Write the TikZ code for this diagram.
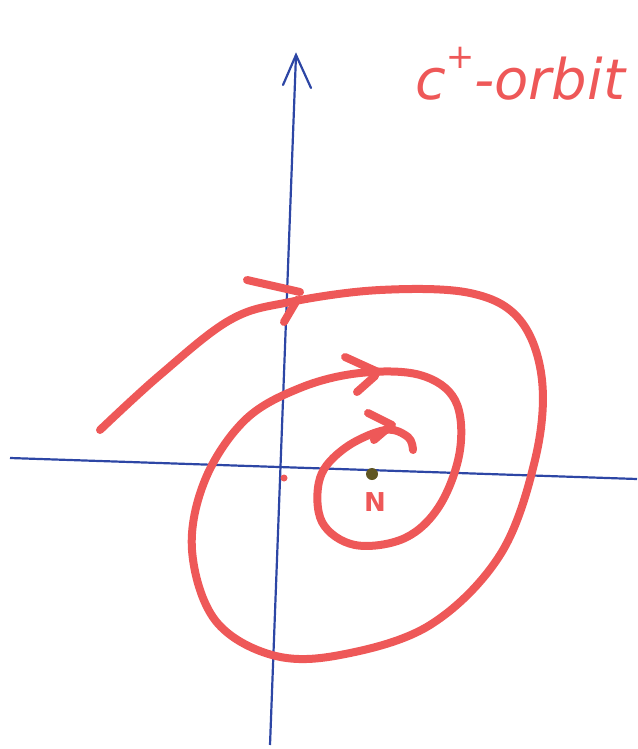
\documentclass[tikz,border=0pt]{standalone}
\usepackage{fontspec}
\setmainfont{DejaVu Sans}
\begin{document}
\begin{tikzpicture}[x=1pt,y=-1pt,
  axis/.style={draw=axisblue,line width=2.2pt},
  orbit/.style={draw=orbitred,line width=8pt,line cap=round,line join=round},
  barb/.style={draw=orbitred,line width=8pt,line cap=round}]
\definecolor{axisblue}{RGB}{45,70,165}
\definecolor{orbitred}{RGB}{238,88,88}
\useasboundingbox (0,0) rectangle (637,749);
% axes
\coordinate (xl) at (10,458);
\coordinate (xr) at (637,479);
\coordinate (yt) at (296,55);
\coordinate (yb) at (270,745);
\draw[axis] (xl) -- (xr);
\draw[axis] (yb) -- (yt);
\draw[axis,line cap=round] (283,85) -- (yt) -- (311,88);
% spiral orbit
\draw[orbit] plot[smooth,tension=0.6] coordinates {
 (100,430) (160,375) (230,320) (290,302) (380,290) (470,293) (520,320)
 (542,380) (535,460) (500,555) (430,625) (340,655) (272,655)
 (215,620) (192,550) (205,480) (245,420) (300,388) (360,373) (420,375)
 (455,400) (460,450) (440,505) (405,538) (355,545) (322,522) (320,478)
 (345,448) (385,430) (408,437) (413,450)};
% arrow barbs
\draw[barb] (247,280) -- (300,292);
\draw[barb] (284,322) -- (297,300);
\draw[barb] (345,357) -- (378,372);
\draw[barb] (357,392) -- (375,376);
\draw[barb] (368,413) -- (392,425);
\draw[barb] (374,440) -- (388,428);
% points
\fill[orbitred] (284,478) circle (3.5pt);
\fill[orbitred!50!black!80!green] (372,474) circle (6pt);
\node[text=orbitred,font=\fontsize{26}{26}\selectfont\bfseries] (n) at (375,502) {N};
% title
\node[text=orbitred,font=\fontsize{56}{56}\selectfont\itshape] (title) at (520,74)
  {c\raisebox{0.55em}{\fontsize{34}{34}\selectfont +}-orbit};
\end{tikzpicture}
\end{document}
